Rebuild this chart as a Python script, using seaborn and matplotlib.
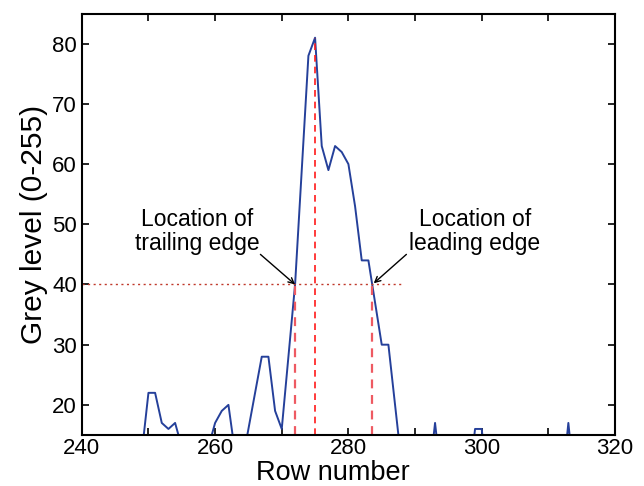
import matplotlib
matplotlib.use("Agg")
import matplotlib.pyplot as plt
import seaborn as sns
import pandas as pd
import numpy as np

rows = list(range(240, 321))
grey = [8, 7, 9, 6, 8, 10, 7, 9, 8,            # 240-248
        12, 22, 22, 17, 16, 17, 13, 10, 9, 10,  # 249-258
        13, 17, 19, 20, 12, 10, 16, 22, 28, 28, # 259-268
        19, 16, 28, 40, 59, 78, 81, 63, 59, 63, # 269-278
        62, 60, 53, 44, 44, 37, 30, 30, 20, 10, # 279-288
        8, 9, 7, 7, 17, 7, 8, 9, 8, 6,          # 289-298
        16, 16, 6, 8, 9, 8, 7, 8, 9, 8,         # 299-308
        7, 8, 8, 6, 17, 6, 8, 9, 7, 8,          # 309-318
        9, 8]                                   # 319-320

threshold = 40
trailing_edge = 272.0
peak_row = 275
peak_val = 81
leading_edge = 283.6

sns.set_style("ticks")
plt.rcParams['font.family'] = ['Liberation Sans', 'DejaVu Sans']
plt.rcParams['text.color'] = 'black'
plt.rcParams['axes.labelcolor'] = 'black'

fig = plt.figure(figsize=(6.44, 4.86), dpi=100)
ax = fig.add_axes([0.127, 0.105, 0.828, 0.867])

df = pd.DataFrame({"row": rows, "grey": grey})
sns.lineplot(data=df, x="row", y="grey", ax=ax, color="#25409a", linewidth=1.4)

ymin = 15
ax.hlines(threshold, 240, 288, colors="#c0392b", linestyles=(0, (1.5, 2.5)), linewidth=1.0)
ax.vlines([trailing_edge, leading_edge], ymin, threshold, colors="#ee5a62",
          linestyles=(0, (4, 3)), linewidth=1.6)
ax.vlines(peak_row, ymin, peak_val, colors="#ff1a1a", linestyles=(0, (4, 3)), linewidth=1.2)

ax.text(257.3, 48.8, "Location of\ntrailing edge", ha="center", va="center",
        fontsize=16.5, linespacing=1.1, color="black")
ax.text(299.0, 48.8, "Location of\nleading edge", ha="center", va="center",
        fontsize=16.5, linespacing=1.1, color="black")
ax.annotate("", xy=(trailing_edge, threshold), xytext=(266.8, 45.0),
            arrowprops=dict(arrowstyle="->", color="black", lw=1.0, shrinkA=0, shrinkB=0))
ax.annotate("", xy=(leading_edge + 0.2, threshold + 0.2), xytext=(288.7, 45.0),
            arrowprops=dict(arrowstyle="->", color="black", lw=1.0, shrinkA=0, shrinkB=0))

ax.set_xlim(240, 320)
ax.set_ylim(15, 85)
ax.set_xticks(range(240, 321, 10))
ax.set_xticklabels([str(v) if v % 20 == 0 else "" for v in range(240, 321, 10)])
ax.set_yticks(range(20, 81, 10))
ax.tick_params(direction="in", top=True, right=True, length=5, width=1.2, labelsize=16, colors="black")
ax.tick_params(axis="x", pad=2)
for s in ax.spines.values():
    s.set_linewidth(1.5)
    s.set_color("black")
    s.set_visible(True)

ax.set_xlabel("Row number", fontsize=19.5)
ax.xaxis.set_label_coords(0.471, -0.059)
ax.set_ylabel("Grey level (0-255)", fontsize=21.5, labelpad=3)

fig.savefig("out.png", dpi=100)
